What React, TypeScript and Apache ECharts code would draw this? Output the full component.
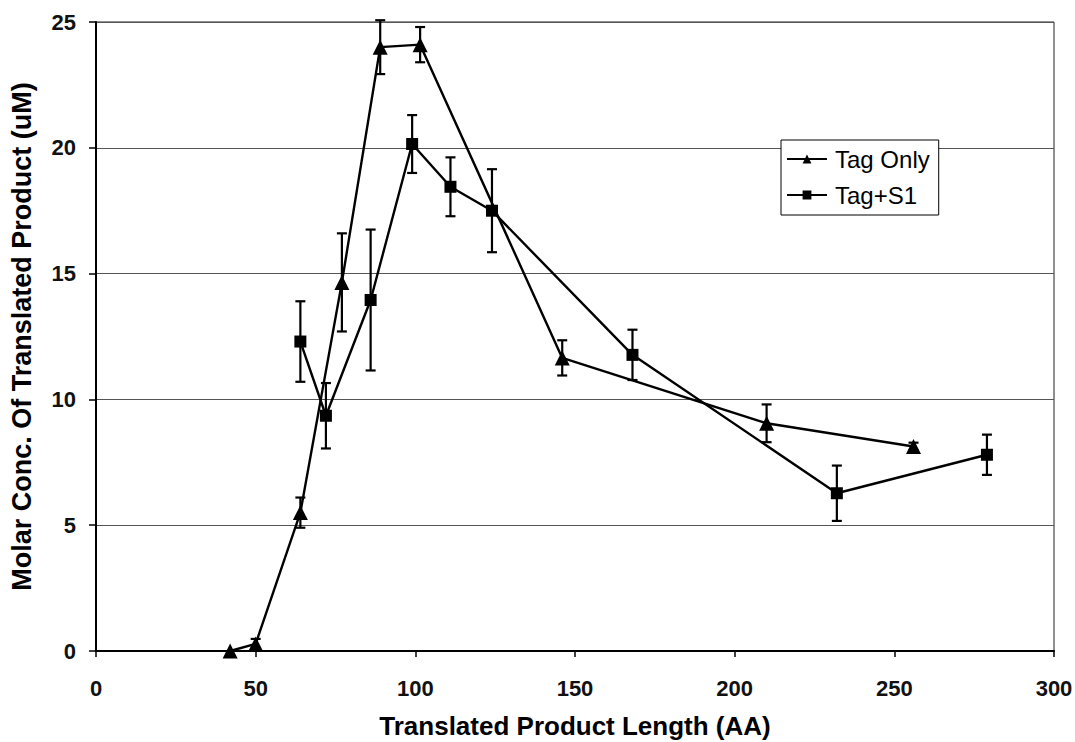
import React, { useEffect, useRef } from "react";
import * as echarts from "echarts";

const xTicks = [0, 50, 100, 150, 200, 250, 300];
const yTicks = [0, 5, 10, 15, 20, 25];

const tagOnlyX = [42, 50, 64, 77, 89, 101.5, 146, 210, 256];
const tagOnlyY = [0, 0.28, 5.5, 14.65, 24.0, 24.1, 11.65, 9.05, 8.13];
const tagOnlyErr = [0, 0.2, 0.6, 1.95, 1.07, 0.7, 0.7, 0.75, 0.15];

const tagS1X = [64, 72, 86, 99, 111, 124, 168, 232, 279];
const tagS1Y = [12.3, 9.35, 13.95, 20.15, 18.45, 17.5, 11.77, 6.27, 7.8];
const tagS1Err = [1.6, 1.3, 2.8, 1.15, 1.17, 1.65, 1.0, 1.1, 0.8];

const FONT = "'Liberation Sans', Arial, Helvetica, sans-serif";

function errRender(params: any, api: any) {
  const x = api.value(0);
  const y = api.value(1);
  const e = api.value(2);
  if (!e) return { type: "group", children: [] };
  const top = api.coord([x, y + e]);
  const bot = api.coord([x, y - e]);
  const hw = 5;
  const style = { stroke: "#000", lineWidth: 2.2 };
  return {
    type: "group",
    children: [
      { type: "line", shape: { x1: top[0], y1: top[1], x2: bot[0], y2: bot[1] }, style },
      { type: "line", shape: { x1: top[0] - hw, y1: top[1], x2: top[0] + hw, y2: top[1] }, style },
      { type: "line", shape: { x1: bot[0] - hw, y1: bot[1], x2: bot[0] + hw, y2: bot[1] }, style },
    ],
  };
}

export default function App() {
  const ref = useRef<HTMLDivElement>(null);
  useEffect(() => {
    if (!ref.current) return;
    const chart = echarts.init(ref.current, undefined, { renderer: "svg" });
    const tagOnly = tagOnlyX.map((x, i) => [x, tagOnlyY[i]]);
    const tagS1 = tagS1X.map((x, i) => [x, tagS1Y[i]]);
    const tagOnlyE = tagOnlyX.map((x, i) => [x, tagOnlyY[i], tagOnlyErr[i]]);
    const tagS1E = tagS1X.map((x, i) => [x, tagS1Y[i], tagS1Err[i]]);
    chart.setOption({
      animation: false,
      backgroundColor: "#fff",
      textStyle: { fontFamily: FONT },
      grid: {
        left: 96,
        right: 21,
        top: 22,
        bottom: 91,
        outerBoundsMode: "none",
        containLabel: false,
        show: true,
        borderColor: "#222",
        borderWidth: 1,
        backgroundColor: "transparent",
      },
      legend: {
        data: ["Tag Only", "Tag+S1"],
        orient: "vertical",
        left: 781,
        top: 140,
        backgroundColor: "#fff",
        borderColor: "#000",
        borderWidth: 1,
        padding: [7, 9, 8, 5],
        itemGap: 12,
        itemWidth: 40,
        itemHeight: 11,
        textStyle: { fontSize: 24, color: "#000", fontFamily: FONT, padding: [0, 0, 0, 3] },
      },
      xAxis: {
        type: "value",
        min: 0,
        max: 300,
        interval: 50,
        name: "Translated Product Length (AA)",
        nameLocation: "middle",
        nameGap: 62,
        nameTextStyle: { fontSize: 26, fontWeight: "bold", color: "#000", fontFamily: FONT },
        axisLine: { show: true, lineStyle: { color: "#000", width: 2 } },
        axisTick: { show: true, inside: false, length: 6, lineStyle: { color: "#000", width: 1.5 } },
        axisLabel: {
          fontSize: 22,
          fontWeight: "bold",
          color: "#111",
          margin: 26,
          fontFamily: FONT,
          formatter: (v: number) => (xTicks.includes(v) ? String(v) : ""),
        },
        splitLine: { show: false },
      },
      yAxis: {
        type: "value",
        min: 0,
        max: 25,
        interval: 5,
        name: "Molar Conc. Of Translated Product (uM)",
        nameLocation: "middle",
        nameGap: 61,
        nameTextStyle: { fontSize: 27, fontWeight: "bold", color: "#000", fontFamily: FONT },
        axisLine: { show: true, lineStyle: { color: "#000", width: 2 } },
        axisTick: { show: true, inside: false, length: 7, lineStyle: { color: "#000", width: 1.5 } },
        axisLabel: {
          fontSize: 22,
          fontWeight: "bold",
          color: "#111",
          margin: 20,
          fontFamily: FONT,
          formatter: (v: number) => (yTicks.includes(v) ? String(v) : ""),
        },
        splitLine: { show: true, lineStyle: { color: "#555", width: 1, type: "solid" } },
      },
      series: [
        {
          name: "Tag Only",
          type: "line",
          data: tagOnly,
          symbol: "triangle",
          symbolSize: 15,
          showAllSymbol: true,
          lineStyle: { color: "#000", width: 2.4 },
          itemStyle: { color: "#000" },
          z: 3,
        },
        {
          name: "Tag+S1",
          type: "line",
          data: tagS1,
          symbol: "rect",
          symbolSize: 12,
          showAllSymbol: true,
          lineStyle: { color: "#000", width: 2.4 },
          itemStyle: { color: "#000" },
          z: 3,
        },
        {
          name: "err1",
          type: "custom",
          renderItem: errRender,
          data: tagOnlyE,
          encode: { x: 0, y: 1 },
          z: 4,
        },
        {
          name: "err2",
          type: "custom",
          renderItem: errRender,
          data: tagS1E,
          encode: { x: 0, y: 1 },
          z: 4,
        },
      ],
    });
    return () => chart.dispose();
  }, []);
  return (
    <div
      ref={ref}
      style={{ position: "fixed", left: 0, top: 0, width: 1075, height: 742, background: "#fff" }}
    />
  );
}
